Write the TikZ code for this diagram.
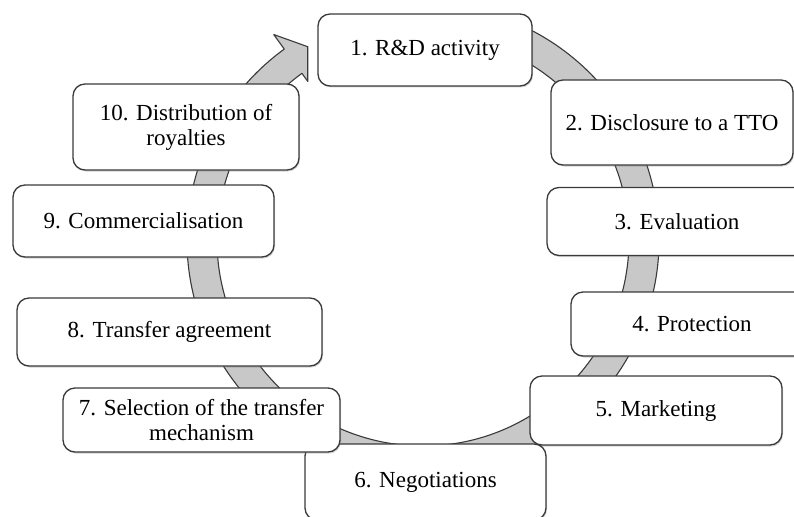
\documentclass[tikz,border=0pt]{standalone}
\usepackage{fontspec}
\setmainfont{Liberation Serif}
\usepackage{tikz}
\usetikzlibrary{shadows, calc, positioning}
\definecolor{bandgray}{RGB}{200,200,200}
\definecolor{linegray}{RGB}{58,58,58}
\tikzset{stage box/.style 2 args={draw=linegray, line width=1.3pt, fill=white, rounded corners=12pt,
    minimum width=#1, minimum height=#2, inner sep=0pt, align=center,
    font=\fontsize{23}{25}\selectfont,
    drop shadow={opacity=0.35, shadow xshift=1pt, shadow yshift=-1.5pt}}}

\begin{document}
\begin{tikzpicture}[x=1pt, y=1pt]
			\useasboundingbox (0,0) rectangle (794,-516);
			\coordinate (c) at (423,-240);
			% circular arrow behind the boxes
			\filldraw[fill=bandgray, draw=linegray, line width=1.1pt, line join=round]
				($(c)+(72:236)$) arc[start angle=72, end angle=-234, radius=236]
				-- ($(c)+(-234:254)$) -- ($(c)+(-239.2:225)$) -- ($(c)+(-234:196)$)
				-- ($(c)+(-234:206)$) arc[start angle=-234, end angle=72, radius=206] -- cycle;
			
			\node[stage box={214pt}{72pt}] (p1) at (425,-50) {1. R\&D activity};
			\node[stage box={242pt}{85pt}] (p2) at (672,-122.5) {2. Disclosure to a TTO};
			\node[stage box={260pt}{68pt}] (p3) at (677,-221.5) {3. Evaluation};
			\node[stage box={242pt}{64pt}] (p4) at (692,-324) {4. Protection};
			\node[stage box={252pt}{69pt}] (p5) at (656,-410.5) {5. Marketing};
			\node[stage box={241pt}{76pt}] (p6) at (425.5,-482) {6. Negotiations};
			\node[stage box={277pt}{64pt}] (p7) at (201.5,-420) {7. Selection of the transfer\\mechanism};
			\node[stage box={305pt}{68pt}] (p8) at (169.5,-332) {8. Transfer agreement};
			\node[stage box={261pt}{72pt}] (p9) at (143.5,-221) {9. Commercialisation};
			\node[stage box={226pt}{86pt}] (p10) at (186,-127) {10. Distribution of\\royalties};
		\end{tikzpicture}
\end{document}
